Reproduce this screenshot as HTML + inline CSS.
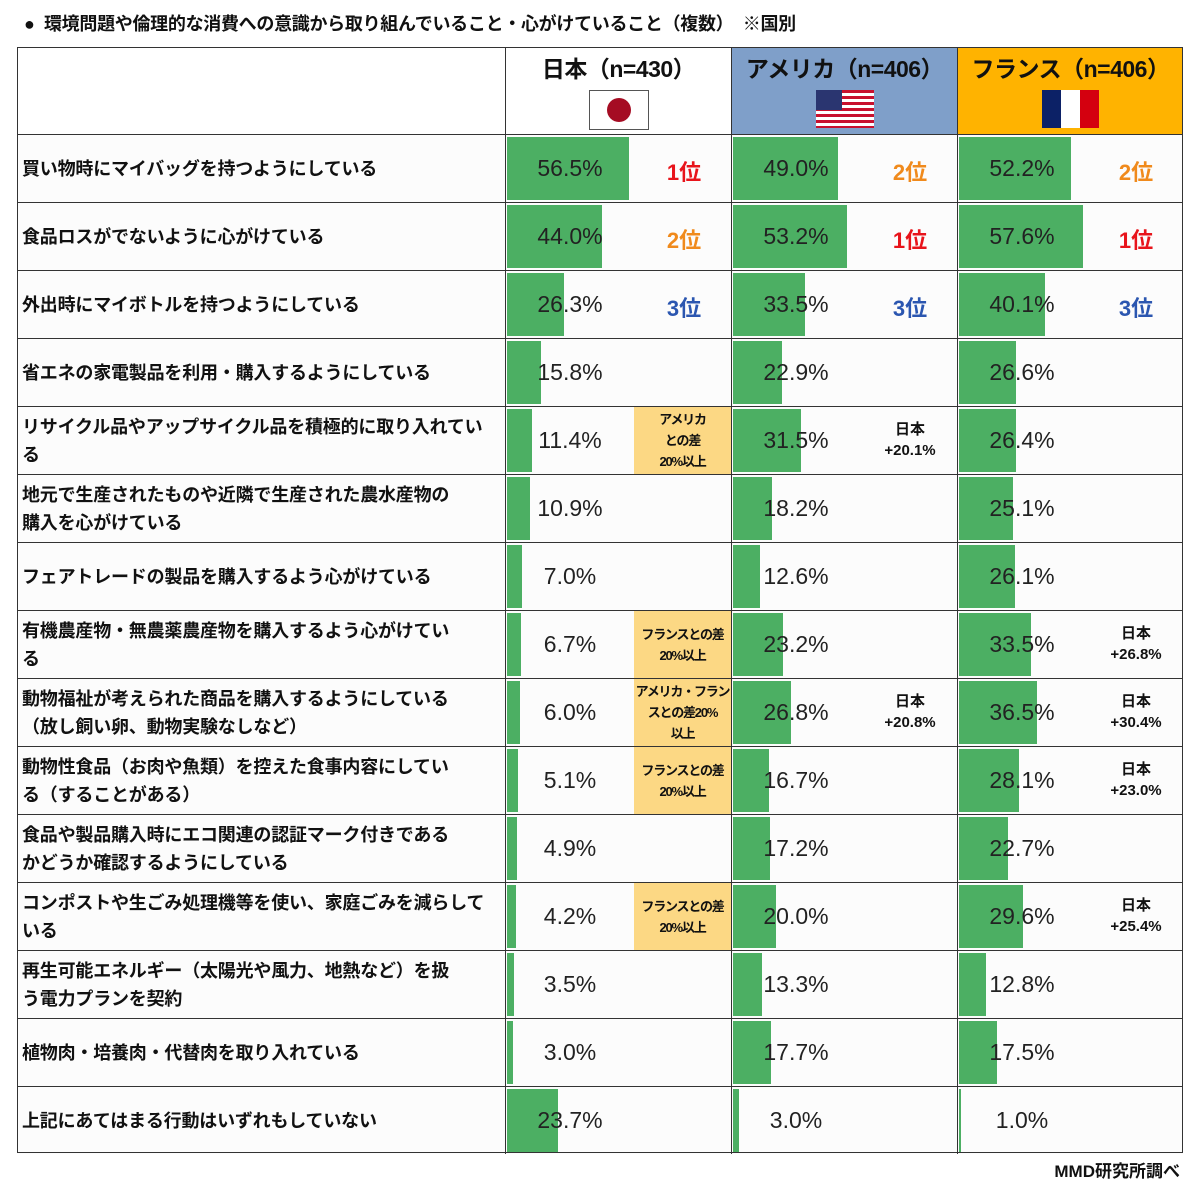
<!DOCTYPE html>
<html><head><meta charset="utf-8"><style>
body{margin:0;width:1200px;height:1193px;background:#fff;position:relative;font-family:"Liberation Sans","Noto Sans CJK JP",sans-serif;overflow:hidden}
.t{position:absolute;left:24px;top:10px;font-size:18px;font-weight:bold;color:#111;letter-spacing:-0.3px}
.f{position:absolute;right:20px;top:1157px;font-size:17px;font-weight:bold;color:#111}
.tb{position:absolute;left:17px;top:47px;width:1166px;height:1106px;border:1px solid #333;box-sizing:border-box;background:transparent;z-index:5}
.h{position:absolute;top:47px;height:87px;width:226px;box-sizing:border-box;border-left:1px solid #333;text-align:center;font-size:23px;font-weight:bold;color:#111;padding-top:3px;white-space:nowrap;letter-spacing:-0.5px}
.r{position:absolute;left:17px;width:1166px;height:68px;border-top:1px solid #333;box-sizing:border-box;background:#fcfcfc}
.l{position:absolute;left:5px;top:0;height:67px;width:482px;display:flex;align-items:center;font-size:18px;font-weight:bold;color:#111;line-height:28px;white-space:nowrap;letter-spacing:-0.2px}
.c{position:absolute;top:0;width:226px;height:67px;border-left:1px solid #333;box-sizing:border-box}
.c1{left:488px}.c2{left:714px}.c3{left:940px}
.c i{position:absolute;left:1px;top:2px;height:63px;background:#4caf63}
.c b{position:absolute;left:0;width:128px;top:20px;text-align:center;font-weight:normal;font-size:23px;color:#222}
.c u{position:absolute;left:130px;width:96px;top:20px;text-decoration:none;text-align:center;font-weight:bold;font-size:22px}
.red{color:#e8141b}.or{color:#f08a1c}.bl{color:#2b56b0}
.y{position:absolute;left:128px;width:97px;top:0;height:67px;background:#fcd884;display:flex;align-items:center;justify-content:center;text-align:center;font-size:13px;font-weight:bold;line-height:21px;color:#111;white-space:nowrap;letter-spacing:-1.2px;overflow:hidden}
.n{position:absolute;left:130px;width:96px;top:12px;text-align:center;font-size:15px;font-weight:bold;line-height:21px;color:#111}
</style></head><body>
<div class="t">●&nbsp;&nbsp;環境問題や倫理的な消費への意識から取り組んでいること・心がけていること（複数）&nbsp;&nbsp;※国別</div>
<div class="h" style="left:505px;background:#fff">日本（n=430）
<div style="margin:6px auto 0;width:58px;height:38px;border:1px solid #555;background:#fff;position:relative"><div style="position:absolute;left:17px;top:7px;width:24px;height:24px;border-radius:50%;background:#a50c23"></div></div></div>
<div class="h" style="left:731px;background:#7f9fc9">アメリカ（n=406）
<div style="margin:6px auto 0;width:58px;height:38px;position:relative;background:repeating-linear-gradient(#c8102e 0 3px,#fff 3px 6px)"><div style="position:absolute;left:0;top:0;width:26px;height:20px;background:#2a3570"></div></div></div>
<div class="h" style="left:957px;background:#ffb300">フランス（n=406）
<div style="margin:6px auto 0;width:58px;height:38px;display:flex"><div style="flex:1;background:#0c2166"></div><div style="flex:1;background:#fff"></div><div style="flex:1;background:#d4000f"></div></div></div>

<div class="r" style="top:134px"><div class="l">買い物時にマイバッグを持つようにしている</div>
<div class="c c1"><i style="width:122px"></i><b>56.5%</b><u class="red">1位</u></div>
<div class="c c2"><i style="width:105px"></i><b>49.0%</b><u class="or">2位</u></div>
<div class="c c3"><i style="width:112px"></i><b>52.2%</b><u class="or">2位</u></div></div>

<div class="r" style="top:202px"><div class="l">食品ロスがでないように心がけている</div>
<div class="c c1"><i style="width:95px"></i><b>44.0%</b><u class="or">2位</u></div>
<div class="c c2"><i style="width:114px"></i><b>53.2%</b><u class="red">1位</u></div>
<div class="c c3"><i style="width:124px"></i><b>57.6%</b><u class="red">1位</u></div></div>

<div class="r" style="top:270px"><div class="l">外出時にマイボトルを持つようにしている</div>
<div class="c c1"><i style="width:57px"></i><b>26.3%</b><u class="bl">3位</u></div>
<div class="c c2"><i style="width:72px"></i><b>33.5%</b><u class="bl">3位</u></div>
<div class="c c3"><i style="width:86px"></i><b>40.1%</b><u class="bl">3位</u></div></div>

<div class="r" style="top:338px"><div class="l">省エネの家電製品を利用・購入するようにしている</div>
<div class="c c1"><i style="width:34px"></i><b>15.8%</b></div>
<div class="c c2"><i style="width:49px"></i><b>22.9%</b></div>
<div class="c c3"><i style="width:57px"></i><b>26.6%</b></div></div>

<div class="r" style="top:406px"><div class="l">リサイクル品やアップサイクル品を積極的に取り入れてい<br>る</div>
<div class="c c1"><i style="width:25px"></i><b>11.4%</b><div class="y">アメリカ<br>との差<br>20%以上</div></div>
<div class="c c2"><i style="width:68px"></i><b>31.5%</b><div class="n">日本<br>+20.1%</div></div>
<div class="c c3"><i style="width:57px"></i><b>26.4%</b></div></div>

<div class="r" style="top:474px"><div class="l">地元で生産されたものや近隣で生産された農水産物の<br>購入を心がけている</div>
<div class="c c1"><i style="width:23px"></i><b>10.9%</b></div>
<div class="c c2"><i style="width:39px"></i><b>18.2%</b></div>
<div class="c c3"><i style="width:54px"></i><b>25.1%</b></div></div>

<div class="r" style="top:542px"><div class="l">フェアトレードの製品を購入するよう心がけている</div>
<div class="c c1"><i style="width:15px"></i><b>7.0%</b></div>
<div class="c c2"><i style="width:27px"></i><b>12.6%</b></div>
<div class="c c3"><i style="width:56px"></i><b>26.1%</b></div></div>

<div class="r" style="top:610px"><div class="l">有機農産物・無農薬農産物を購入するよう心がけてい<br>る</div>
<div class="c c1"><i style="width:14px"></i><b>6.7%</b><div class="y">フランスとの差<br>20%以上</div></div>
<div class="c c2"><i style="width:50px"></i><b>23.2%</b></div>
<div class="c c3"><i style="width:72px"></i><b>33.5%</b><div class="n">日本<br>+26.8%</div></div></div>

<div class="r" style="top:678px"><div class="l">動物福祉が考えられた商品を購入するようにしている<br>（放し飼い卵、動物実験なしなど）</div>
<div class="c c1"><i style="width:13px"></i><b>6.0%</b><div class="y">アメリカ・フラン<br>スとの差20%<br>以上</div></div>
<div class="c c2"><i style="width:58px"></i><b>26.8%</b><div class="n">日本<br>+20.8%</div></div>
<div class="c c3"><i style="width:78px"></i><b>36.5%</b><div class="n">日本<br>+30.4%</div></div></div>

<div class="r" style="top:746px"><div class="l">動物性食品（お肉や魚類）を控えた食事内容にしてい<br>る（することがある）</div>
<div class="c c1"><i style="width:11px"></i><b>5.1%</b><div class="y">フランスとの差<br>20%以上</div></div>
<div class="c c2"><i style="width:36px"></i><b>16.7%</b></div>
<div class="c c3"><i style="width:60px"></i><b>28.1%</b><div class="n">日本<br>+23.0%</div></div></div>

<div class="r" style="top:814px"><div class="l">食品や製品購入時にエコ関連の認証マーク付きである<br>かどうか確認するようにしている</div>
<div class="c c1"><i style="width:10px"></i><b>4.9%</b></div>
<div class="c c2"><i style="width:37px"></i><b>17.2%</b></div>
<div class="c c3"><i style="width:49px"></i><b>22.7%</b></div></div>

<div class="r" style="top:882px"><div class="l">コンポストや生ごみ処理機等を使い、家庭ごみを減らして<br>いる</div>
<div class="c c1"><i style="width:9px"></i><b>4.2%</b><div class="y">フランスとの差<br>20%以上</div></div>
<div class="c c2"><i style="width:43px"></i><b>20.0%</b></div>
<div class="c c3"><i style="width:64px"></i><b>29.6%</b><div class="n">日本<br>+25.4%</div></div></div>

<div class="r" style="top:950px"><div class="l">再生可能エネルギー（太陽光や風力、地熱など）を扱<br>う電力プランを契約</div>
<div class="c c1"><i style="width:7px"></i><b>3.5%</b></div>
<div class="c c2"><i style="width:29px"></i><b>13.3%</b></div>
<div class="c c3"><i style="width:27px"></i><b>12.8%</b></div></div>

<div class="r" style="top:1018px"><div class="l">植物肉・培養肉・代替肉を取り入れている</div>
<div class="c c1"><i style="width:6px"></i><b>3.0%</b></div>
<div class="c c2"><i style="width:38px"></i><b>17.7%</b></div>
<div class="c c3"><i style="width:38px"></i><b>17.5%</b></div></div>

<div class="r" style="top:1086px"><div class="l">上記にあてはまる行動はいずれもしていない</div>
<div class="c c1"><i style="width:51px"></i><b>23.7%</b></div>
<div class="c c2"><i style="width:6px"></i><b>3.0%</b></div>
<div class="c c3"><i style="width:2px"></i><b>1.0%</b></div></div>

<div class="tb"></div>
<div class="f">MMD研究所調べ</div>
</body></html>
